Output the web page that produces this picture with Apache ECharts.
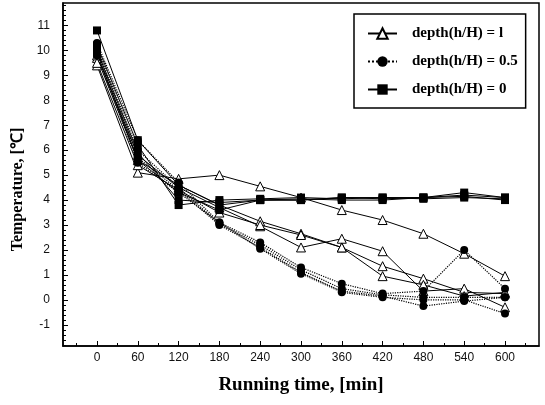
<!DOCTYPE html>
<html>
<head>
<meta charset="utf-8">
<script src="https://cdn.jsdelivr.net/npm/echarts@6/dist/echarts.min.js"></script>
<style>html,body{margin:0;padding:0;background:#fff;}#c{width:545px;height:405px;}</style>
</head>
<body>
<div id="c"></div>
<script>
// ---- data ----
const times = [0, 60, 120, 180, 240, 300, 360, 420, 480, 540, 600];
const xTickLabels = [0, 60, 120, 180, 240, 300, 360, 420, 480, 540, 600];
const yTickLabels = [-1, 0, 1, 2, 3, 4, 5, 6, 7, 8, 9, 10, 11];

const nameTop = 'depth(h/H) = l';
const nameMid = 'depth(h/H) = 0.5';
const nameBot = 'depth(h/H) = 0';

// depth h/H = l (triangles)
const tri1 = [9.4, 5.1, 4.85, 5.0, 4.55, 4.1, 3.6, 3.2, 2.65, 1.85, 0.95];
const tri2 = [9.7, 5.6, 4.6, 3.8, 3.15, 2.65, 2.1, 1.35, 0.85, 0.3, 0.25];
const tri3 = [9.8, 5.8, 4.5, 3.7, 2.95, 2.1, 2.45, 1.95, 0.35, 0.45, -0.3];
const tri4 = [9.5, 5.4, 4.4, 3.5, 3.0, 2.6, 2.1, 0.95, 0.6, 0.15, 0.3];

// depth h/H = 0.5 (circles)
const cir1 = [10.3, 6.4, 4.7, 3.1, 2.3, 1.3, 0.65, 0.25, 0.35, 2.0, 0.45];
const cir2 = [10.1, 6.0, 4.5, 3.05, 2.2, 1.2, 0.45, 0.2, 0.1, 0.1, 0.1];
const cir3 = [10.0, 5.7, 4.4, 3.0, 2.1, 1.1, 0.35, 0.15, -0.25, -0.05, 0.1];
const cir4 = [9.8, 5.5, 4.3, 3.1, 2.05, 1.05, 0.3, 0.1, 0.0, 0.0, -0.55];

// depth h/H = 0 (squares)
const sq1 = [10.8, 6.4, 4.6, 3.8, 4.0, 4.0, 4.1, 4.05, 4.1, 4.3, 4.1];
const sq2 = [10.2, 6.2, 3.8, 4.0, 4.05, 4.1, 4.05, 4.1, 4.1, 4.15, 4.0];
const sq3 = [10.0, 5.9, 4.0, 3.9, 4.0, 4.0, 4.1, 4.1, 4.05, 4.1, 4.05];
const sq4 = [9.9, 5.6, 4.3, 3.6, 4.0, 4.05, 4.0, 4.0, 4.1, 4.2, 4.1];

const triSets = [tri1, tri2, tri3, tri4];
const cirSets = [cir1, cir2, cir3, cir4];
const sqSets = [sq1, sq2, sq3, sq4];

// ---- build ----
const X_MIN = -50, X_MAX = 650, Y_MIN = -1.85, Y_MAX = 11.9;
const xMinor = [];
for (let v = -30; v <= 630; v += 60) xMinor.push(v);
const yMinor = [];
for (let i = -9; i <= 59; i++) { if (i % 5 !== 0) yMinor.push(Math.round(i * 20) / 100); }

function pairs(arr) { return times.map((t, i) => [t, arr[i]]); }

const series = [];
triSets.forEach(d => series.push({
  type: 'line', name: nameTop, data: pairs(d), symbol: 'triangle', symbolSize: 9,
  itemStyle: { color: '#fff', borderColor: '#000', borderWidth: 1 },
  lineStyle: { color: '#000', width: 1, type: 'solid' }, z: 2, animation: false
}));
cirSets.forEach(d => series.push({
  type: 'line', name: nameMid, data: pairs(d), symbol: 'circle', symbolSize: 8,
  itemStyle: { color: '#000', borderColor: '#000', borderWidth: 0 },
  lineStyle: { color: '#000', width: 1.2, type: 'dotted' }, z: 3, animation: false
}));
sqSets.forEach(d => series.push({
  type: 'line', name: nameBot, data: pairs(d), symbol: 'rect', symbolSize: 8,
  itemStyle: { color: '#000', borderColor: '#000', borderWidth: 0 },
  lineStyle: { color: '#000', width: 1, type: 'solid' }, z: 4, animation: false
}));

const labelFont = { fontFamily: 'Liberation Sans', fontSize: 12, color: '#111' };
const xTitleFont = { fontFamily: 'Liberation Serif', fontWeight: 'bold', fontSize: 19, color: '#000' };
const yTitleFont = { fontFamily: 'Liberation Serif', fontWeight: 'bold', fontSize: 16, color: '#000', padding: [0, 30, 0, 0] };

const option = {
  backgroundColor: '#fff',
  animation: false,
  grid: { left: 63, right: 6, top: 3, bottom: 59, show: true, borderColor: '#000', borderWidth: 1.5, backgroundColor: 'transparent', outerBoundsMode: 'none' },
  legend: {
    data: [nameTop, nameMid, nameBot],
    orient: 'vertical', left: 354, top: 14,
    itemWidth: 29, itemHeight: 13, itemGap: 13,
    padding: [12, 8, 11, 13],
    backgroundColor: '#fff', borderColor: '#000', borderWidth: 1.5,
    textStyle: { fontFamily: 'Liberation Serif', fontWeight: 'bold', fontSize: 15, color: '#000', padding: [0, 0, 0, 10] },
    selectedMode: false
  },
  xAxis: [
    {
      type: 'value', min: X_MIN, max: X_MAX,
      name: 'Running time, [min]', nameLocation: 'middle', nameGap: 30, nameTextStyle: xTitleFont,
      axisLine: { show: true, onZero: false, lineStyle: { color: '#000', width: 1.5 } },
      axisTick: { show: true, inside: true, length: 5, customValues: xTickLabels, lineStyle: { color: '#000', width: 1 } },
      axisLabel: { show: true, customValues: xTickLabels, margin: 6, ...labelFont },
      splitLine: { show: false }
    },
    {
      type: 'value', min: X_MIN, max: X_MAX, position: 'bottom',
      axisLine: { show: false, onZero: false },
      axisTick: { show: true, inside: true, length: 3, customValues: xMinor, lineStyle: { color: '#000', width: 1 } },
      axisLabel: { show: false },
      splitLine: { show: false }
    }
  ],
  yAxis: [
    {
      type: 'value', min: Y_MIN, max: Y_MAX,
      name: 'Temperature, [℃]', nameLocation: 'middle', nameGap: 35, nameTextStyle: yTitleFont,
      axisLine: { show: true, onZero: false, lineStyle: { color: '#000', width: 1.5 } },
      axisTick: { show: true, inside: true, length: 5, customValues: yTickLabels, lineStyle: { color: '#000', width: 1 } },
      axisLabel: { show: true, customValues: yTickLabels, margin: 13, ...labelFont },
      splitLine: { show: false }
    },
    {
      type: 'value', min: Y_MIN, max: Y_MAX, position: 'left',
      axisLine: { show: false, onZero: false },
      axisTick: { show: true, inside: true, length: 3, customValues: yMinor, lineStyle: { color: '#000', width: 1 } },
      axisLabel: { show: false },
      splitLine: { show: false }
    }
  ],
  series: series
};

const chart = echarts.init(document.getElementById('c'), null, { renderer: 'canvas' });
chart.setOption(option);
</script>
</body>
</html>
